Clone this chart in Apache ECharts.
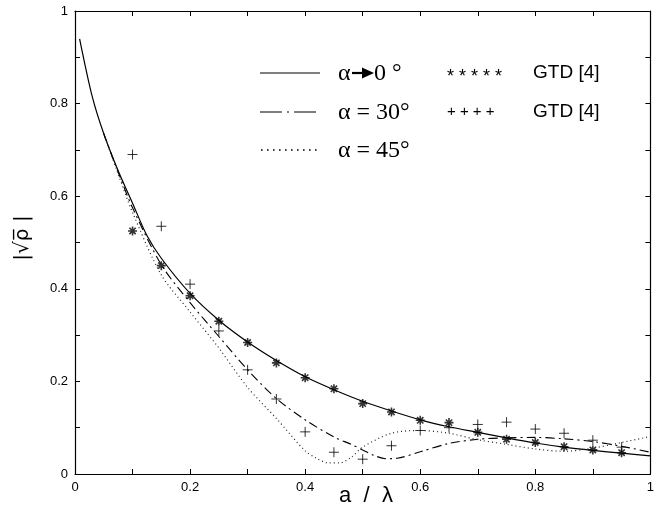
<!DOCTYPE html>
<html>
<head>
<meta charset="utf-8">
<script src="https://cdn.jsdelivr.net/npm/echarts@6/dist/echarts.min.js"></script>
<style>
html, body { margin: 0; padding: 0; background: #fff; }
#chart { width: 657px; height: 506px; }
</style>
</head>
<body>
<div id="chart"></div>
<script>
// alpha -> 0 (solid)
var zeroX = [0.008, 0.03, 0.05, 0.075, 0.1, 0.125, 0.15, 0.2, 0.25, 0.3, 0.35, 0.4, 0.45, 0.5, 0.55, 0.6, 0.65, 0.7, 0.75, 0.8, 0.85, 0.9, 0.95, 1.0];
var zeroY = [0.94, 0.815, 0.735, 0.655, 0.585, 0.515, 0.466, 0.39, 0.332, 0.285, 0.245, 0.21, 0.182, 0.157, 0.136, 0.117, 0.102, 0.09, 0.078, 0.067, 0.058, 0.051, 0.045, 0.039];

// alpha = 30 (dash-dot)
var thirtyX = [0.05, 0.075, 0.1, 0.15, 0.2, 0.25, 0.3, 0.35, 0.4, 0.45, 0.48, 0.5, 0.52, 0.54, 0.56, 0.6, 0.65, 0.7, 0.75, 0.8, 0.85, 0.9, 0.95, 1.0];
var thirtyY = [0.735, 0.652, 0.575, 0.452, 0.37, 0.297, 0.225, 0.163, 0.117, 0.08, 0.064, 0.052, 0.04, 0.033, 0.034, 0.048, 0.066, 0.075, 0.078, 0.079, 0.076, 0.07, 0.06, 0.047];

// alpha = 45 (dotted)
var fortyfiveX = [0.05, 0.075, 0.1, 0.15, 0.2, 0.25, 0.3, 0.35, 0.4, 0.42, 0.44, 0.46, 0.48, 0.5, 0.55, 0.6, 0.65, 0.7, 0.75, 0.8, 0.85, 0.9, 0.95, 1.0];
var fortyfiveY = [0.735, 0.648, 0.565, 0.43, 0.35, 0.272, 0.187, 0.12, 0.05, 0.034, 0.024, 0.024, 0.036, 0.058, 0.088, 0.094, 0.088, 0.074, 0.064, 0.054, 0.049, 0.056, 0.068, 0.081];

// GTD [4] points
var gtdX = [0.1, 0.15, 0.2, 0.25, 0.3, 0.35, 0.4, 0.45, 0.5, 0.55, 0.6, 0.65, 0.7, 0.75, 0.8, 0.85, 0.9, 0.95];
var gtdZero = [0.525, 0.45, 0.385, 0.33, 0.284, 0.24, 0.208, 0.184, 0.152, 0.134, 0.116, 0.111, 0.09, 0.075, 0.068, 0.059, 0.052, 0.046];
var gtdThirty = [0.69, 0.535, 0.41, 0.309, 0.225, 0.162, 0.091, 0.047, 0.032, 0.061, 0.094, 0.1, 0.107, 0.112, 0.097, 0.088, 0.073, 0.058];

var tickLabels = ['0', '0.2', '0.4', '0.6', '0.8', '1'];

function pairs(xs, ys) {
	return xs.map(function (x, i) { return [x, ys[i]]; });
}

function axis(pos, labels) {
	return {
		type: 'value',
		position: pos,
		min: 0,
		max: 1,
		interval: 0.1,
		axisLine: { show: true, onZero: false, lineStyle: { color: '#000', width: 1.2 } },
		axisTick: { show: true, inside: true, length: 5, lineStyle: { color: '#000' } },
		axisLabel: {
			show: labels,
			color: '#000',
			fontSize: 13,
			fontFamily: 'Liberation Sans',
			margin: 7,
			formatter: function (v) {
				var i = Math.round(v * 10);
				return i % 2 ? '' : tickLabels[i / 2];
			}
		},
		splitLine: { show: false }
	};
}

var chart = echarts.init(document.getElementById('chart'));

var star = 'path://M5,0V10M0,5H10M1.5,1.5L8.5,8.5M1.5,8.5L8.5,1.5';
var plus = 'path://M5,0V10M0,5H10';
var legendFont = '24px "Liberation Serif"';

chart.setOption({
	animation: false,
	backgroundColor: '#fff',
	grid: { left: 75, right: 2, top: 11, bottom: 32 },
	xAxis: [axis('bottom', true), axis('top', false)],
	yAxis: [axis('left', true), axis('right', false)],
	series: [
		{
			type: 'line', data: pairs(zeroX, zeroY), showSymbol: false, smooth: 0.3,
			lineStyle: { color: '#000', width: 1.2 }
		},
		{
			type: 'line', data: pairs(thirtyX, thirtyY), showSymbol: false, smooth: 0.3,
			lineStyle: { color: '#000', width: 1.1, type: [9, 4, 2, 4] }
		},
		{
			type: 'line', data: pairs(fortyfiveX, fortyfiveY), showSymbol: false, smooth: 0.3,
			lineStyle: { color: '#222', width: 1.2, type: [1, 3] }
		},
		{
			type: 'scatter', data: pairs(gtdX, gtdZero), symbol: star, symbolSize: 9,
			itemStyle: { color: 'transparent', borderColor: '#000', borderWidth: 1.6 }
		},
		{
			type: 'scatter', data: pairs(gtdX, gtdThirty), symbol: plus, symbolSize: 10,
			itemStyle: { color: 'transparent', borderColor: '#000', borderWidth: 1 }
		}
	],
	graphic: [
		// legend, left column
		{ type: 'line', shape: { x1: 260, y1: 73, x2: 320, y2: 73 }, style: { stroke: '#000', lineWidth: 1.2 } },
		{ type: 'text', x: 338, y: 74, style: { text: 'α', font: legendFont, fill: '#000', verticalAlign: 'middle' } },
		{ type: 'line', shape: { x1: 352, y1: 73, x2: 366, y2: 73 }, style: { stroke: '#000', lineWidth: 2.2 } },
		{ type: 'polygon', shape: { points: [[362, 67.5], [374, 73], [362, 78.5]] }, style: { fill: '#000' } },
		{ type: 'text', x: 374, y: 74, style: { text: '0 °', font: legendFont, fill: '#000', verticalAlign: 'middle' } },

		{ type: 'line', shape: { x1: 260, y1: 112, x2: 320, y2: 112 }, style: { stroke: '#000', lineWidth: 1.2, lineDash: [22, 5, 2, 5] } },
		{ type: 'text', x: 338, y: 113, style: { text: 'α = 30°', font: legendFont, fill: '#000', verticalAlign: 'middle' } },

		{ type: 'line', shape: { x1: 261, y1: 150, x2: 320, y2: 150 }, style: { stroke: '#000', lineWidth: 1.6, lineDash: [1.6, 4.4] } },
		{ type: 'text', x: 338, y: 151, style: { text: 'α = 45°', font: legendFont, fill: '#000', verticalAlign: 'middle' } },

		// legend, right column
		{ type: 'text', x: 447, y: 77, style: { text: '* * * * *', font: '18px "Liberation Sans"', fill: '#000', verticalAlign: 'middle' } },
		{ type: 'text', x: 533, y: 73, style: { text: 'GTD [4]', font: '19px "Liberation Sans"', fill: '#000', verticalAlign: 'middle' } },
		{ type: 'text', x: 447, y: 112, style: { text: '+ + + +', font: '15px "Liberation Sans"', fill: '#000', verticalAlign: 'middle' } },
		{ type: 'text', x: 533, y: 112, style: { text: 'GTD [4]', font: '19px "Liberation Sans"', fill: '#000', verticalAlign: 'middle' } },

		// axis names
		{ type: 'text', x: 23, y: 238, rotation: Math.PI / 2, style: { text: '|√ρ\u0305 |', font: '20px "DejaVu Sans"', fill: '#000', align: 'center', verticalAlign: 'middle' } },
		{ type: 'text', x: 366, y: 496, style: { text: 'a  /  λ', font: '22px "Liberation Sans"', fill: '#000', align: 'center', verticalAlign: 'middle' } }
	]
});
</script>
</body>
</html>
